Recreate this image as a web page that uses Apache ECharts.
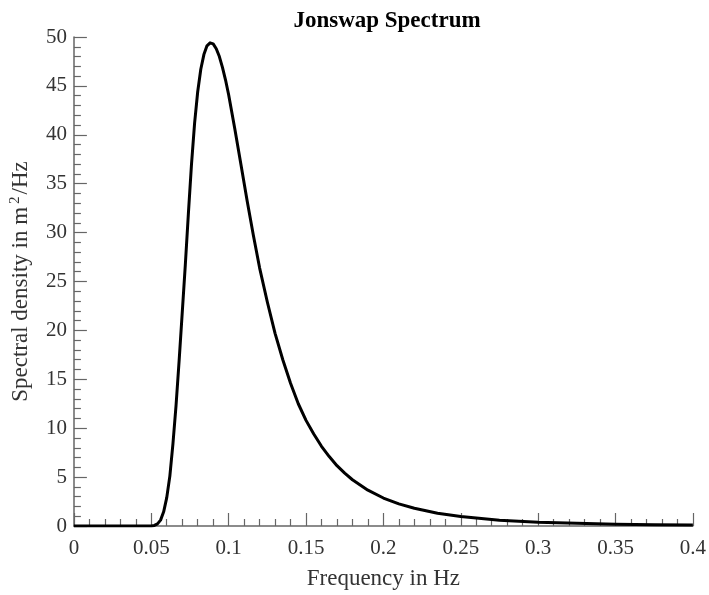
<!DOCTYPE html>
<html><head><meta charset="utf-8">
<script src="https://cdn.jsdelivr.net/npm/echarts@6/dist/echarts.min.js"></script>
<style>html,body{margin:0;padding:0;background:#fff}#c{width:709px;height:595px}</style>
</head><body><div id="c"></div>
<script>
const freq = [0,0.02,0.04,0.048,0.05,0.052,0.054,0.056,0.058,0.06,0.062,0.064,0.066,0.068,0.07,0.072,0.074,0.076,0.078,0.08,0.082,0.084,0.086,0.088,0.09,0.092,0.094,0.096,0.098,0.1,0.104,0.108,0.112,0.116,0.12,0.125,0.13,0.135,0.14,0.145,0.15,0.155,0.16,0.165,0.17,0.175,0.18,0.19,0.2,0.21,0.22,0.235,0.25,0.275,0.3,0.325,0.35,0.375,0.4];
const density = [0,0,0,0,0.01,0.06,0.22,0.6,1.45,2.9,5.1,8.4,12.3,16.9,21.8,26.7,32.0,37.0,41.2,44.4,46.7,48.2,49.1,49.4,49.3,48.8,48.0,46.9,45.6,44.1,40.6,36.9,33.2,29.7,26.4,22.9,19.7,17.0,14.6,12.5,10.8,9.4,8.15,7.1,6.17,5.4,4.73,3.66,2.86,2.26,1.81,1.31,0.97,0.6,0.39,0.27,0.18,0.13,0.094];
const xTicks = [0,0.05,0.1,0.15,0.2,0.25,0.3,0.35,0.4];
const yTicks = [0,5,10,15,20,25,30,35,40,45,50];
const titleText = 'Jonswap Spectrum';
const xName = 'Frequency in Hz';

const chart = echarts.init(document.getElementById('c'));
const serif = 'Liberation Serif, Times New Roman, serif';
const axisCol = '#666';
chart.setOption({
  animation: false,
  title: {text: titleText, left: 382, top: 5, textAlign: 'center',
    textStyle: {fontFamily: serif, fontSize: 23, fontWeight: 'bold', color: '#000'}},
  grid: {left: 73, right: 16, top: 37, bottom: 68, containLabel: false},
  xAxis: {type: 'value', min: xTicks[0], max: xTicks[xTicks.length-1], interval: 0.05,
    name: xName, nameLocation: 'middle', nameGap: 41,
    nameTextStyle: {fontFamily: serif, fontSize: 23, color: '#333'},
    axisLine: {show: true, lineStyle: {color: axisCol, width: 1.5}},
    axisTick: {show: true, inside: true, length: 13, lineStyle: {color: axisCol, width: 1.2}},
    minorTick: {show: true, splitNumber: 5, length: 7, lineStyle: {color: axisCol, width: 1.2}},
    splitLine: {show: false},
    axisLabel: {fontFamily: serif, fontSize: 21, color: '#333', margin: 12,
      formatter: v => String(+v.toFixed(2))}},
  yAxis: {type: 'value', min: yTicks[0], max: yTicks[yTicks.length-1], interval: 5,
    name: '{a|Spectral density in m}{s|2}{a|/Hz}', nameLocation: 'middle', nameGap: 27,
    nameTextStyle: {rich: {a: {fontFamily: serif, fontSize: 23, color: '#333', lineHeight: 26},
      s: {fontFamily: serif, fontSize: 15, color: '#333', verticalAlign: 'top', lineHeight: 26, padding: [0,2,12,3]}}},
    axisLine: {show: true, lineStyle: {color: axisCol, width: 1.5}},
    axisTick: {show: true, inside: true, length: 13, lineStyle: {color: axisCol, width: 1.2}},
    minorTick: {show: true, splitNumber: 5, length: 7, lineStyle: {color: axisCol, width: 1.2}},
    splitLine: {show: false},
    axisLabel: {fontFamily: serif, fontSize: 21, color: '#333', margin: 7}},
  series: [{type: 'line', data: freq.map((f,i)=>[f, density[i]]), showSymbol: false,
    smooth: false,
    lineStyle: {color: '#000', width: 3, join: 'round'}, z: 5}]
});
</script></body></html>
